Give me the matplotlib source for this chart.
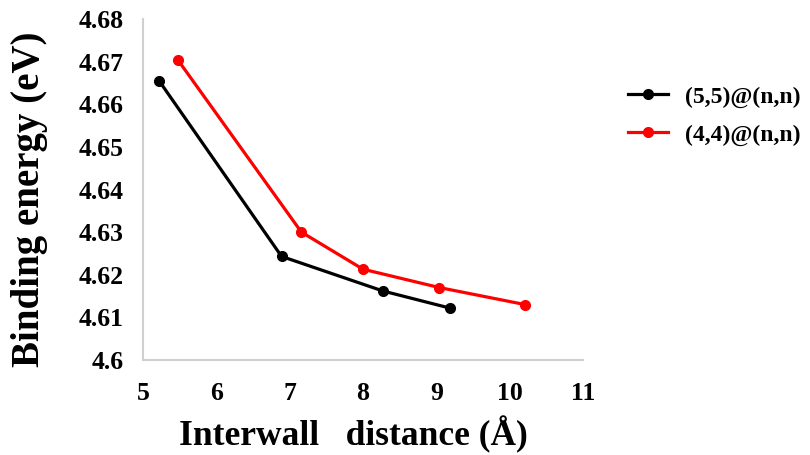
import matplotlib
matplotlib.use("Agg")
import matplotlib.pyplot as plt

# values
x_55 = [5.22, 6.89, 8.27, 9.18]
y_55 = [4.6655, 4.6243, 4.6162, 4.6122]

x_44 = [5.48, 7.16, 8.00, 9.04, 10.21]
y_44 = [4.6703, 4.6300, 4.6213, 4.6170, 4.6130]

xticks = [5, 6, 7, 8, 9, 10, 11]
yticks = [4.60, 4.61, 4.62, 4.63, 4.64, 4.65, 4.66, 4.67, 4.68]
ytick_labels = ["4.6", "4.61", "4.62", "4.63", "4.64", "4.65", "4.66", "4.67", "4.68"]

plt.rcParams['font.family'] = ['Liberation Serif', 'DejaVu Serif']
plt.rcParams['font.weight'] = 'bold'

fig = plt.figure(figsize=(8.1, 4.55), dpi=100)
ax = fig.add_axes([0.1765, 0.2088, 0.5433, 0.7494])

ax.plot(x_55, y_55, color="black", lw=2.3, marker="o", ms=7, label="(5,5)@(n,n)")
ax.plot(x_44, y_44, color="#ff0000", lw=2.3, marker="o", ms=7, label="(4,4)@(n,n)")

ax.set_xlim(5, 11)
ax.set_ylim(4.6, 4.68)
ax.set_xticks(xticks)
ax.set_yticks(yticks)
ax.set_yticklabels(ytick_labels)
ax.tick_params(axis="x", length=0, pad=16, labelsize=18.5)
ax.tick_params(axis="y", length=0, pad=14, labelsize=18.5)
for lab in ax.get_xticklabels() + ax.get_yticklabels():
    lab.set_fontweight("bold")

for s in ["top", "right"]:
    ax.spines[s].set_visible(False)
for s in ["left", "bottom"]:
    ax.spines[s].set_color("#d0d0d0")
    ax.spines[s].set_linewidth(1.5)

ax.set_xlabel("Interwall   distance (\u00c5)", fontsize=25.5, fontweight="bold")
ax.xaxis.set_label_coords(0.477, -0.165)
ax.set_ylabel("Binding energy (eV)", fontsize=28, fontweight="bold")
ax.yaxis.set_label_coords(-0.215, 0.47)

fig.legend(loc="upper left", bbox_to_anchor=(628 / 810, 1 - 86 / 455), frameon=False,
           borderpad=0, borderaxespad=0,
           handlelength=1.7, labelspacing=0.7, handletextpad=0.7,
           prop={"weight": "bold", "size": 17})

fig.savefig("out.png", dpi=100)
